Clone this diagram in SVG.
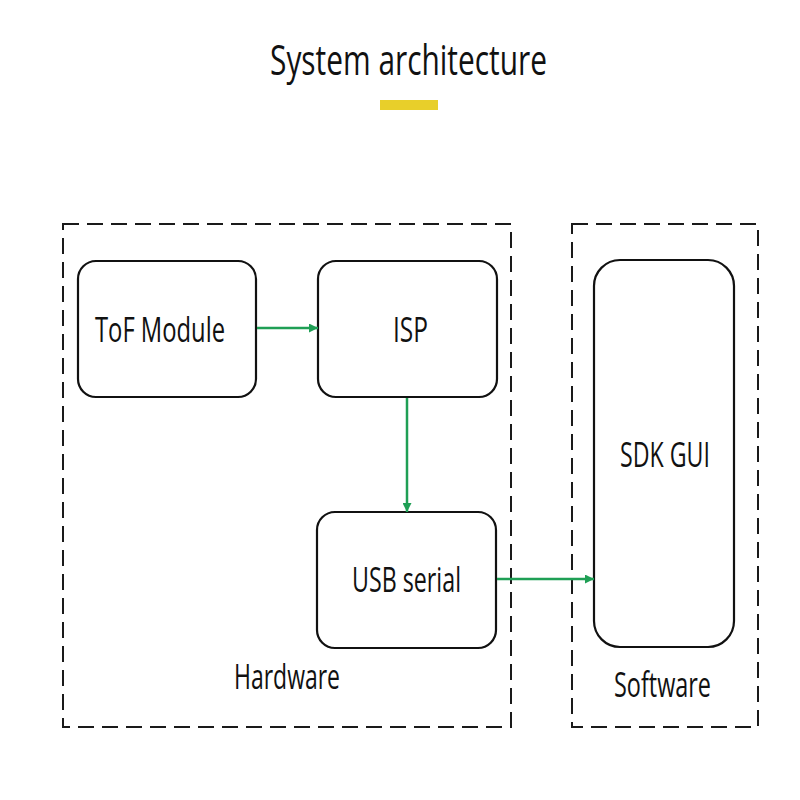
<svg xmlns="http://www.w3.org/2000/svg" width="800" height="800" viewBox="0 0 800 800">
<style>
.grp{fill:none;stroke:#1a1a1a;stroke-width:2;stroke-dasharray:16 8}
.box{fill:#fff;stroke:#111;stroke-width:2.2}
.t{font-family:"Open Sans","Liberation Sans",sans-serif;fill:#111}
.lbl{font-size:34px}
.conn{stroke:#1f9f55;stroke-width:2.5;fill:none}
</style>
<defs>
<marker id="ah" viewBox="0 0 10 10" refX="10" refY="5" markerWidth="10" markerHeight="9" markerUnits="userSpaceOnUse" orient="auto">
<path d="M0,0 L10,5 L0,10 z" fill="#1f9f55"/>
</marker>
</defs>
<rect width="800" height="800" fill="#fff"/>
<text class="t" x="270" y="75" font-size="42" textLength="277" lengthAdjust="spacingAndGlyphs">System architecture</text>
<rect x="380" y="100" width="58" height="10" fill="#e8cf2a"/>
<g id="hardware">
<rect class="grp" x="63" y="224" width="448" height="503"/>
<text class="t lbl" x="234" y="689" textLength="106" lengthAdjust="spacingAndGlyphs">Hardware</text>
</g>
<g id="software">
<rect class="grp" x="572" y="224" width="186" height="503"/>
<text class="t lbl" x="614" y="697" textLength="97" lengthAdjust="spacingAndGlyphs">Software</text>
</g>
<g id="tof">
<rect class="box" x="78" y="261" width="178" height="136" rx="18"/>
<text class="t lbl" x="95" y="342" textLength="130" lengthAdjust="spacingAndGlyphs">ToF Module</text>
</g>
<g id="isp">
<rect class="box" x="318" y="261" width="179" height="136" rx="18"/>
<text class="t lbl" x="393" y="342" textLength="35" lengthAdjust="spacingAndGlyphs">ISP</text>
</g>
<g id="usb">
<rect class="box" x="317" y="512" width="179" height="136" rx="18"/>
<text class="t lbl" x="352" y="592" textLength="109" lengthAdjust="spacingAndGlyphs">USB serial</text>
</g>
<g id="sdk">
<rect class="box" x="594" y="260" width="140" height="387" rx="26"/>
<text class="t lbl" x="620" y="467" textLength="90" lengthAdjust="spacingAndGlyphs">SDK GUI</text>
</g>
<g id="connectors">
<line class="conn" x1="257" y1="328" x2="318" y2="328" marker-end="url(#ah)"/>
<line class="conn" x1="407" y1="398" x2="407" y2="512" marker-end="url(#ah)"/>
<line class="conn" x1="497" y1="579" x2="594" y2="579" marker-end="url(#ah)"/>
</g>
</svg>
